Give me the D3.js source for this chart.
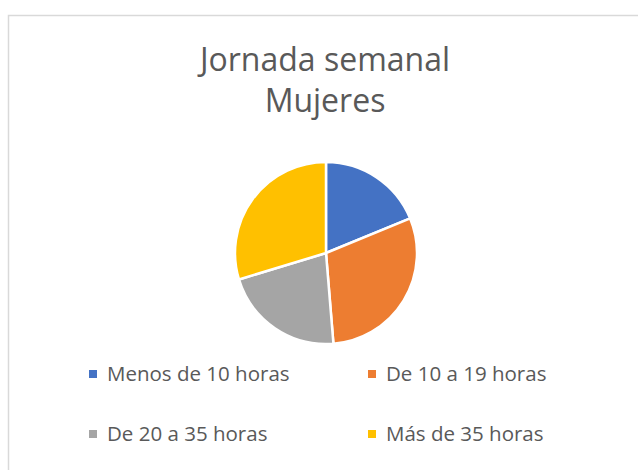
<!DOCTYPE html>
<html lang="es">
<head>
<meta charset="UTF-8">
<title>Jornada semanal Mujeres</title>
<script src="https://d3js.org/d3.v7.min.js"></script>
<style>
    body { margin: 0; background: #fff; }
    svg { display: block; }
    .title { font-family: "Open Sans", sans-serif; fill: #595959; text-anchor: middle; }
    .legend-label { font-family: "Open Sans", sans-serif; fill: #595959; }
</style>
</head>
<body>
<svg id="chart"></svg>
<script>
    // data
    const categories = ["Menos de 10 horas", "De 10 a 19 horas", "De 20 a 35 horas", "Más de 35 horas"];
    const values = [18.8, 29.9, 21.6, 29.7];
    const colors = ["#4472c4", "#ed7d31", "#a5a5a5", "#ffc000"];
    const titleLines = ["Jornada semanal", "Mujeres"];

    const width = 638, height = 470;
    const svg = d3.select("#chart").attr("width", width).attr("height", height);

    // chart area frame (runs off the right and bottom)
    svg.append("rect")
        .attr("x", 8.5).attr("y", 15.5)
        .attr("width", 660).attr("height", 500)
        .attr("fill", "#fff")
        .attr("stroke", "#d9d9d9")
        .attr("stroke-width", 1.5);

    svg.selectAll("text.title")
        .data(titleLines)
        .enter().append("text")
        .attr("class", "title")
        .attr("x", 325)
        .attr("y", (d, i) => 71 + i * 41)
        .style("font-size", "32px")
        .text(d => d);

    const pie = d3.pie().sort(null).value(d => d);
    const arc = d3.arc().innerRadius(0).outerRadius(91);

    const g = svg.append("g").attr("transform", "translate(326,253)");
    g.selectAll("path")
        .data(pie(values))
        .enter().append("path")
        .attr("d", arc)
        .attr("fill", (d, i) => colors[i])
        .attr("stroke", "#fff")
        .attr("stroke-width", 2.5)
        .attr("stroke-linejoin", "round");

    // legend, two columns
    const colX = [89, 368];
    const rowY = [381, 441];
    const item = svg.selectAll("g.legend-item")
        .data(categories)
        .enter().append("g")
        .attr("class", "legend-item")
        .attr("transform", (d, i) => `translate(${colX[i % 2]},${rowY[Math.floor(i / 2)]})`);

    item.append("rect")
        .attr("x", 0).attr("y", -11)
        .attr("width", 8).attr("height", 8)
        .attr("fill", (d, i) => colors[i]);

    item.append("text")
        .attr("class", "legend-label")
        .attr("x", 18)
        .style("font-size", "20.5px")
        .text(d => d);
</script>
</body>
</html>
